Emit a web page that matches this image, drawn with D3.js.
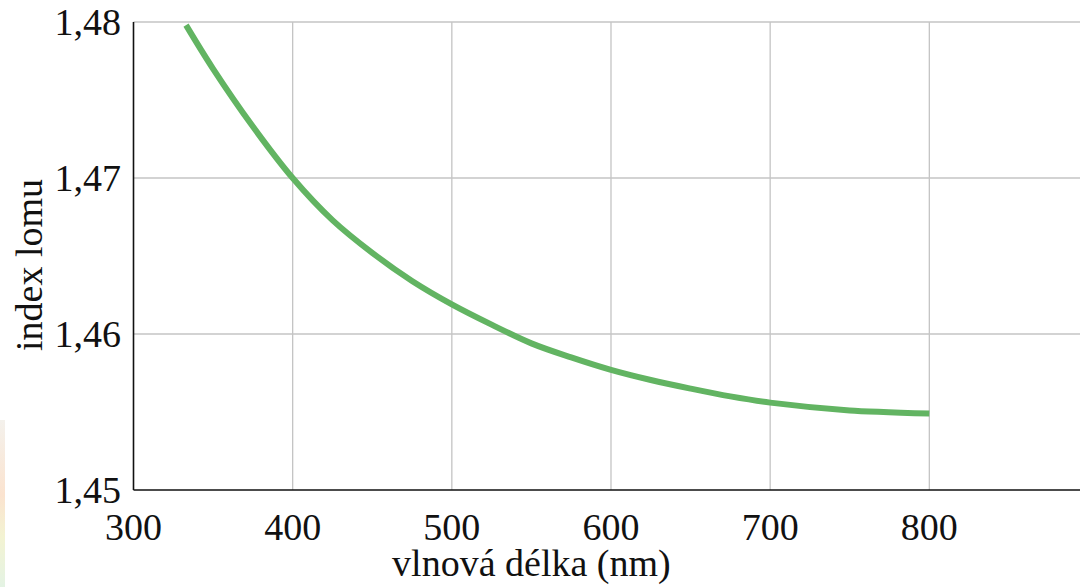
<!DOCTYPE html>
<html lang="cs">
<head>
<meta charset="utf-8">
<title>index lomu</title>
<style>
  html, body { margin: 0; padding: 0; background: #fff; }
  svg { display: block; }
  text { font-family: "Liberation Serif", "DejaVu Serif", serif; fill: #111; }
  .grid line { stroke: #c4c4c4; stroke-width: 1.3; }
  .axis-line { stroke: #111; stroke-width: 1.6; }
</style>
</head>
<body>
<svg id="chart" width="1080" height="587"></svg>
<script src="https://d3js.org/d3.v7.min.js"></script>
<script>
// vlnová délka (nm) a index lomu
var wavelength = [333, 350, 375, 400, 425, 450, 475, 500, 525, 550, 575, 600, 625, 650, 675, 700, 750, 800];
var refIndex   = [1.4798, 1.4770, 1.4733, 1.4700, 1.4673, 1.4652, 1.4634, 1.4619, 1.4606, 1.4594, 1.4585, 1.4577, 1.45705, 1.4565, 1.4560, 1.4556, 1.4551, 1.4549];
var xTicks = [300, 400, 500, 600, 700, 800];
var yTicks = [1.45, 1.46, 1.47, 1.48];
var xLabel = "vlnová délka (nm)";
var yLabel = "index lomu";

var svg = d3.select("#chart"),
    width = +svg.attr("width"),
    height = +svg.attr("height");

var plotLeft = 133.5, plotTop = 22, plotBottom = 490;

var x = d3.scaleLinear().domain([300, 900]).range([plotLeft, plotLeft + 955]);
var y = d3.scaleLinear().domain([1.45, 1.48]).range([plotBottom, plotTop]);

var fmt = function(d) { return d3.format(".2f")(d).replace(".", ","); };

// slabý barevný proužek u levého okraje
var grad = svg.append("defs").append("linearGradient")
    .attr("id", "edge").attr("x1", 0).attr("y1", 0).attr("x2", 0).attr("y2", 1);
grad.append("stop").attr("offset", "0%").attr("stop-color", "#f4f1ec");
grad.append("stop").attr("offset", "45%").attr("stop-color", "#fbe3cf");
grad.append("stop").attr("offset", "70%").attr("stop-color", "#f3f3d2");
grad.append("stop").attr("offset", "100%").attr("stop-color", "#e4f3e4");
svg.append("rect").attr("x", 0).attr("y", 420).attr("width", 5).attr("height", height - 420)
    .attr("fill", "url(#edge)");

// mřížka
var grid = svg.append("g").attr("class", "grid");
grid.selectAll(".gx").data(xTicks.filter(function(d) { return d > 300; }))
  .enter().append("line")
    .attr("x1", function(d) { return x(d); }).attr("x2", function(d) { return x(d); })
    .attr("y1", plotTop).attr("y2", plotBottom);
grid.selectAll(".gy").data(yTicks.filter(function(d) { return d > 1.45; }))
  .enter().append("line")
    .attr("x1", plotLeft).attr("x2", width)
    .attr("y1", function(d) { return y(d); }).attr("y2", function(d) { return y(d); });

// osy
svg.append("line").attr("class", "axis-line")
    .attr("x1", plotLeft).attr("x2", width).attr("y1", plotBottom).attr("y2", plotBottom);
svg.append("line").attr("class", "axis-line")
    .attr("x1", plotLeft).attr("x2", plotLeft).attr("y1", plotTop).attr("y2", plotBottom);

svg.append("g").selectAll("text").data(xTicks).enter().append("text")
    .attr("x", function(d) { return x(d); })
    .attr("y", 540)
    .attr("text-anchor", "middle")
    .attr("font-size", 38)
    .text(function(d) { return d; });

svg.append("g").selectAll("text").data(yTicks).enter().append("text")
    .attr("x", 121)
    .attr("y", function(d) { return y(d) + 13; })
    .attr("text-anchor", "end")
    .attr("font-size", 38)
    .text(fmt);

svg.append("text")
    .attr("x", x(550)).attr("y", 576)
    .attr("text-anchor", "middle").attr("font-size", 38)
    .text(xLabel);

svg.append("text")
    .attr("transform", "translate(42," + 265 + ") rotate(-90)")
    .attr("text-anchor", "middle").attr("font-size", 38)
    .text(yLabel);

// křivka
var line = d3.line()
    .curve(d3.curveCatmullRom.alpha(0.5))
    .x(function(d, i) { return x(wavelength[i]); })
    .y(function(d) { return y(d); });

svg.append("path")
    .datum(refIndex)
    .attr("fill", "none")
    .attr("stroke", "#62b462")
    .attr("stroke-width", 6)
    .attr("d", line);
</script>
</body>
</html>
